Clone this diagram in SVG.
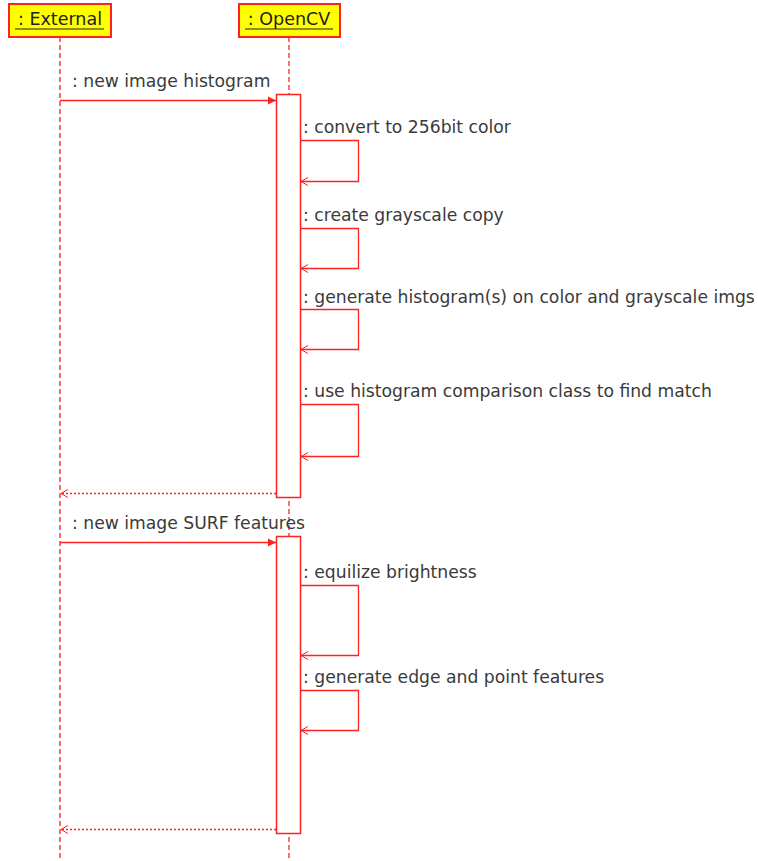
<svg xmlns="http://www.w3.org/2000/svg" width="758" height="861" viewBox="0 0 758 861">
<defs>
<style>
.hdr{fill:#ffff00;stroke:#ff2020;stroke-width:2}
.ht{font-family:"DejaVu Sans",sans-serif;font-size:17.5px;fill:#222;text-anchor:middle}
.ul{stroke:#222;stroke-width:1.2}
.life{stroke:#ff2020;stroke-width:1.3;stroke-dasharray:5,3;fill:none}
.act{fill:#ffffff;stroke:#ff2020;stroke-width:1.5}
.msg{stroke:#ff2020;stroke-width:1.3;fill:none}
.ret{stroke:#ff2020;stroke-width:1.3;stroke-dasharray:2,2;fill:none}
.lbl{font-family:"DejaVu Sans",sans-serif;font-size:17.2px;fill:#3a3a3a}
</style>
<marker id="filled" markerWidth="10" markerHeight="10" refX="9" refY="5" orient="auto" markerUnits="userSpaceOnUse">
<path d="M1,1 L9,5 L1,9 Z" fill="#ff2020"/>
</marker>
<marker id="open" markerWidth="10" markerHeight="10" refX="9" refY="5" orient="auto" markerUnits="userSpaceOnUse">
<path d="M2,1 L9,5 L2,9" fill="none" stroke="#ff2020" stroke-width="1"/>
</marker>
</defs>
<g id="lifelines">
<line class="life" x1="60" y1="37" x2="60" y2="861"/>
<line class="life" x1="289" y1="37" x2="289" y2="861"/>
</g>
<g id="external">
<rect class="hdr" x="9" y="4" width="102" height="33"/>
<text class="ht" x="60" y="25">: External</text>
<line class="ul" x1="15" y1="29" x2="104" y2="29"/>
</g>
<g id="opencv">
<rect class="hdr" x="239" y="4" width="101" height="33"/>
<text class="ht" x="289" y="25">: OpenCV</text>
<line class="ul" x1="245" y1="29" x2="333" y2="29"/>
</g>
<g id="activation1">
<rect class="act" x="276.5" y="94.5" width="24" height="403"/>
</g>
<g id="activation2">
<rect class="act" x="276.5" y="536.5" width="24" height="297"/>
</g>
<g id="connectors">
<path class="msg" d="M60,100.5 L276,100.5" marker-end="url(#filled)"/>
<path class="msg" d="M300.5,140.5 H358.5 V181.5 H301" marker-end="url(#open)"/>
<path class="msg" d="M300.5,228.5 H358.5 V268.5 H301" marker-end="url(#open)"/>
<path class="msg" d="M300.5,309.5 H358.5 V349.5 H301" marker-end="url(#open)"/>
<path class="msg" d="M300.5,404.5 H358.5 V456.5 H301" marker-end="url(#open)"/>
<path class="ret" d="M276,493.5 H61" marker-end="url(#open)"/>
<path class="msg" d="M60,542.5 L276,542.5" marker-end="url(#filled)"/>
<path class="msg" d="M300.5,585.5 H358.5 V655.5 H301" marker-end="url(#open)"/>
<path class="msg" d="M300.5,690.5 H358.5 V730.5 H301" marker-end="url(#open)"/>
<path class="ret" d="M276,829.5 H61" marker-end="url(#open)"/>
</g>
<g id="labels">
<text class="lbl" x="72" y="87">: new image histogram</text>
<text class="lbl" x="303" y="133">: convert to 256bit color</text>
<text class="lbl" x="303" y="221">: create grayscale copy</text>
<text class="lbl" x="303" y="303">: generate histogram(s) on color and grayscale imgs</text>
<text class="lbl" x="303" y="397">: use histogram comparison class to find match</text>
<text class="lbl" x="72" y="529">: new image SURF features</text>
<text class="lbl" x="303" y="578">: equilize brightness</text>
<text class="lbl" x="303" y="683">: generate edge and point features</text>
</g>
</svg>
